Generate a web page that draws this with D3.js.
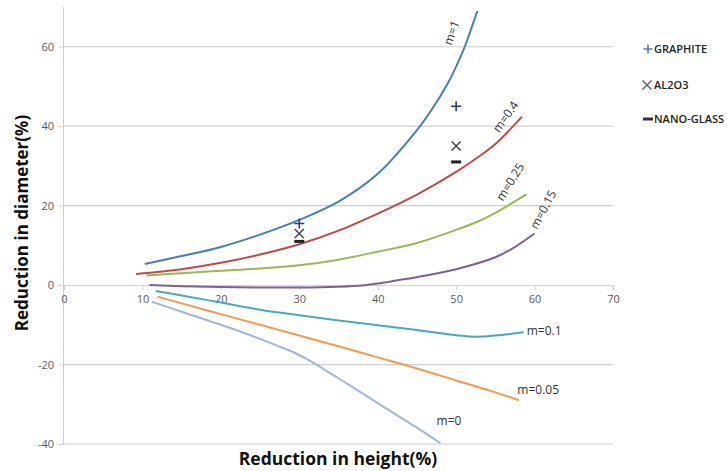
<!DOCTYPE html>
<html><head><meta charset="utf-8">
<script src="https://cdn.jsdelivr.net/npm/d3@7"></script>
<style>body{margin:0;background:#fff}svg{display:block}</style>
</head><body><div id="c"></div>
<script>
const xTicks=[0,10,20,30,40,50,60,70];
const yTicks=[-40,-20,0,20,40,60];
const m1=[[10.3,5.3],[15,7.3],[20,9.6],[25,12.7],[30,16.4],[35,21],[40,28],[45,39],[47,44.5],[49,51],[50,55],[51,59.5],[52.7,69]];
const m04=[[9.2,2.8],[15,4],[20,5.6],[25,7.7],[30,10.3],[35,13.7],[40,18],[45,22.8],[50,28.5],[53,32.5],[55,35.5],[58.4,42.4]];
const m025=[[10.5,2.4],[15,3],[20,3.6],[25,4.2],[30,5],[35,6.4],[40,8.4],[45,10.6],[50,13.9],[53,16.2],[55,18.2],[57,20.5],[59,22.9]];
const m015=[[10.9,0],[15,-0.3],[20,-0.5],[25,-0.6],[30,-0.6],[35,-0.4],[38,-0.1],[40,0.4],[42.5,1.2],[45,2],[50,4],[55,7],[57,9],[60,13]];
const m01=[[11.7,-1.5],[15,-2.6],[20,-4.4],[25,-6.2],[30,-7.6],[35,-8.9],[40,-10.1],[45,-11.3],[50,-12.6],[52.5,-13],[55,-12.7],[58.6,-11.9]];
const m005=[[11.9,-2.9],[15,-4.6],[20,-7.3],[25,-10],[30,-12.7],[35,-15.4],[40,-18.2],[45,-21],[50,-24],[55,-27],[58,-29]];
const m0=[[11.2,-4.2],[15,-6.7],[20,-10],[24,-12.8],[27,-15.1],[30,-17.6],[33,-21],[36,-24.7],[40,-29.7],[45,-35.9],[48,-39.8]];
const graphite=[[30,15.5],[50,45]];
const al2o3=[[30,13],[50,35]];
const nanoglass=[[30,11],[50,31]];
const seriesNames=["m=1","m=0.4","m=0.25","m=0.15","m=0.1","m=0.05","m=0"];
const legendNames=["GRAPHITE","AL2O3","NANO-GLASS"];

const W=727,H=471;
const svg=d3.select("#c").append("svg").attr("width",W).attr("height",H);
const x=d3.scaleLinear().domain([0,70]).range([64,613]);
const y=d3.scaleLinear().domain([-40,70]).range([444,7]);
const grid="#cfcfcf", tickCol="#595959", font="'Open Sans', sans-serif";
const fmt=d=>String(d);

// gridlines
svg.append("g").selectAll("line").data(yTicks.filter(d=>d!==0)).join("line")
 .attr("x1",x(0)).attr("x2",x(70)).attr("y1",d=>y(d)).attr("y2",d=>y(d))
 .attr("stroke",grid).attr("stroke-width",1.2);

// y axis
const ya=svg.append("g").attr("transform",`translate(${x(0)},0)`)
 .call(d3.axisLeft(y).tickValues(yTicks).tickFormat(fmt).tickSize(5).tickPadding(5));
ya.select(".domain").attr("stroke",grid).attr("d",`M-0.5,${y(70)}V${y(-40)}`);
ya.selectAll(".tick line").attr("stroke",grid);
ya.selectAll("text").attr("fill",tickCol).style("font-family",font).style("font-size","11px");

// x axis at y=0
const xa=svg.append("g").attr("transform",`translate(0,${y(0)})`)
 .call(d3.axisBottom(x).tickValues(xTicks).tickFormat(fmt).tickSize(5).tickPadding(5));
xa.select(".domain").attr("stroke",grid).attr("d",`M${x(0)},0.5H${x(70)}`);
xa.selectAll(".tick line").attr("stroke",grid);
xa.selectAll("text").attr("fill",tickCol).style("font-family",font).style("font-size","11px");

// curves
const colors=["#4A7EBB","#BE4B48","#98B954","#7D60A0","#46AAC5","#F59A4F","#A3B6DF"];
const data=[m1,m04,m025,m015,m01,m005,m0];
const line=d3.line().x(d=>x(d[0])).y(d=>y(d[1])).curve(d3.curveCatmullRom.alpha(0.5));
svg.append("g").selectAll("path").data(data).join("path")
 .attr("d",line).attr("fill","none").attr("stroke",(d,i)=>colors[i]).attr("stroke-width",2);

// curve labels
const labPos=[[49.4,63.5,-70,"middle"],[56.3,42.4,-55,"middle"],[56.9,26,-58,"middle"],[61.1,19,-62,"middle"],[59,-11.4,0,"start"],[57.8,-26.3,0,"start"],[47.5,-34.2,0,"start"]];
svg.append("g").selectAll("text").data(seriesNames).join("text")
 .attr("transform",(d,i)=>`translate(${x(labPos[i][0])},${y(labPos[i][1])}) rotate(${labPos[i][2]})`)
 .attr("text-anchor",(d,i)=>labPos[i][3]).attr("dy","0.35em")
 .attr("fill","#333").style("font-family",font).style("font-size","12px").text(d=>d);

// markers
function plus(g,cx,cy,s,c){g.append("path").attr("d",`M${cx-s},${cy}H${cx+s}M${cx},${cy-s}V${cy+s}`).attr("stroke",c).attr("stroke-width",1.6).attr("fill","none");}
function cross(g,cx,cy,s,c){g.append("path").attr("d",`M${cx-s},${cy-s}L${cx+s},${cy+s}M${cx-s},${cy+s}L${cx+s},${cy-s}`).attr("stroke",c).attr("stroke-width",1.5).attr("fill","none");}
function dash(g,cx,cy,s,c){g.append("path").attr("d",`M${cx-s},${cy}H${cx+s}`).attr("stroke",c).attr("stroke-width",3).attr("fill","none");}
const mk=svg.append("g");
graphite.forEach(d=>plus(mk,x(d[0]),y(d[1]),5,"#24407a"));
al2o3.forEach(d=>cross(mk,x(d[0]),y(d[1]),4.5,"#444"));
nanoglass.forEach(d=>dash(mk,x(d[0]),y(d[1]),5,"#222"));

// legend
const lg=svg.append("g");
const ly=[49,85,119];
plus(lg,648,ly[0],4.5,"#4A7EBB");
cross(lg,647,ly[1],4.5,"#666");
dash(lg,648,ly[2],5,"#333");
lg.selectAll("text").data(legendNames).join("text").attr("x",654).attr("y",(d,i)=>ly[i]).attr("dy","0.35em")
 .attr("fill","#222").style("font-family",font).style("font-size","11px").style("font-weight","600").text(d=>d);

// axis titles
svg.append("text").attr("x",338).attr("y",459).attr("dy","0.35em").attr("text-anchor","middle")
 .style("font-family",font).style("font-size","17.5px").style("font-weight","bold").attr("fill","#111").text("Reduction in height(%)");
svg.append("text").attr("transform","translate(22,223) rotate(-90)").attr("dy","0.35em").attr("text-anchor","middle")
 .style("font-family",font).style("font-size","17px").style("font-weight","bold").attr("fill","#111").text("Reduction in diameter(%)");
</script></body></html>
